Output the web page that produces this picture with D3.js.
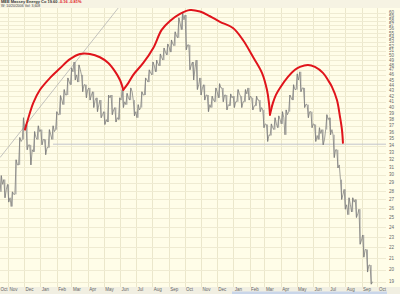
<!DOCTYPE html>
<html>
<head>
<meta charset="utf-8">
<script src="https://cdn.jsdelivr.net/npm/d3@7"></script>
<style>
  body { margin: 0; background: #fffde8; }
  svg { display: block; }
</style>
</head>
<body>
<script>
// weekly price bars, MEE, from mid Oct 2004
const wkHigh = [29.9,29.4,28.8,27.9,32.0,35.2,38.3,37.2,34.1,36.1, 37.0,36.4,34.9,36.4,37.0,39.3,42.1,43.2,45.4,47.4,
  48.6,48.0,46.0,44.1,43.5,42.8,41.7,41.3,39.3,42.2, 42.2,40.0,41.7,43.2,42.5,43.5,41.3,40.5,42.8,45.4,
  47.0,48.6,49.0,50.3,51.6,52.5,53.4,55.3,58.7,60.2, 59.4,52.3,48.6,49.0,45.4,44.1,42.2,42.0,43.5,44.3,
  43.5,42.2,42.4,42.0,43.2,42.0,43.2,43.5,41.7,42.0, 41.3,39.6,37.2,37.3,38.3,38.6,39.3,39.6,42.2,44.1,
  46.2,46.6,43.5,40.5,39.3,37.2,36.7,36.4,38.8,38.3, 35.6,33.4,29.4,28.2,27.2,27.2,27.0,25.9,23.2,21.8, 20.4];
const wkLow = [27.9,27.2,26.7,26.2,27.6,31.3,34.9,33.4,31.3,33.1, 34.9,34.1,32.7,33.7,34.9,36.4,38.8,40.5,42.2,44.1,
  45.0,44.6,42.8,41.7,41.3,40.0,39.3,38.3,37.2,37.6, 38.8,37.6,38.0,40.0,40.5,41.3,38.6,38.3,40.0,42.2,
  44.6,46.0,46.6,47.8,49.0,50.1,50.7,52.1,53.9,55.8, 51.2,47.0,45.0,43.2,42.2,41.3,39.3,40.0,41.0,41.7,
  41.0,39.6,40.3,40.0,41.0,40.0,41.0,41.3,39.6,40.3, 39.3,36.7,34.6,35.5,36.4,36.7,37.3,35.6,39.3,41.3,
  43.2,42.8,40.0,38.3,36.7,34.6,34.9,34.1,36.4,35.6, 32.3,30.9,27.0,25.9,25.3,25.6,25.0,22.3,21.1,19.8, 18.8];
const wkClose = [28.8,28.2,27.2,27.6,31.3,34.6,36.4,34.1,33.4,35.2, 36.1,34.9,33.7,35.6,36.1,38.8,41.3,42.2,44.6,46.6,
  46.0,47.0,44.1,43.2,42.2,41.3,40.5,38.8,38.0,41.7, 39.6,38.3,41.3,41.0,41.7,42.8,39.3,39.6,42.2,45.0,
  46.4,47.8,48.2,49.5,50.7,51.8,52.5,54.3,57.2,58.2, 52.3,48.0,47.4,44.1,43.5,42.2,40.5,41.3,42.8,43.5,
  42.2,40.5,41.7,41.0,42.4,41.0,42.4,42.0,40.3,41.3, 40.0,37.3,35.6,36.7,37.3,38.0,38.3,38.8,41.7,43.2,
  45.0,43.5,40.6,39.3,37.3,35.5,35.8,34.9,38.0,36.4, 33.4,31.3,27.6,26.4,26.4,26.7,25.4,22.7,21.8,20.4, 19.0];

const yTicks = [19,20,21,22,23,24,25,26,27,28,29,30,31,32,33,34,35,36,37,38,39,
  40,41,42,43,44,45,46,47,48,49,50,51,52,53,54,55,56,57,58,59,60];
const monthNames = ["Oct","Nov","Dec","Jan","Feb","Mar","Apr","May","Jun","Jul","Aug","Sep",
  "Oct","Nov","Dec","Jan","Feb","Mar","Apr","May","Jun","Jul","Aug","Sep","Oct"];

// annotations: [week position, price]
const trendPts = [[-0.32, 32.3], [32.11, 61.8]];
const supportLevel = 34.2, supportFrom = 14.0;
const leftShoulder = [[6.43,36.4],[7.32,38.2],[8.68,40.8],[10.49,43.15],[13.19,45.4],[15.89,47.3],
  [18.59,49.2],[21.3,50.3],[24.0,50.3],[26.7,49.6],[28.95,48.4],[30.76,46.7],[32.11,45.0],[33.0,43.15]];
const head = [[33.0,43.15],[34.35,44.4],[35.7,46.0],[38.41,48.4],[41.11,51.6],[43.38,55.75],[45.62,57.9],
  [48.32,59.7],[51.03,60.7],[53.73,60.3],[56.43,59.1],[59.14,57.7],[62.65,56.2],[65.35,53.4],[68.05,49.7],
  [70.49,46.4],[71.84,43.15],[72.38,40.8],[72.65,38.8]];
const rightShoulder = [[72.65,38.8],[73.46,40.8],[74.27,42.24],[75.35,43.5],[77.51,45.6],[79.41,47.0],
  [80.76,47.6],[82.92,48.0],[84.81,47.6],[86.97,46.4],[88.32,45.0],[89.41,43.7],[90.76,41.3],[91.57,38.5],
  [92.11,36.4],[92.38,34.4]];

const W = 400, H = 294;
const plotL = 0, plotR = 386, plotT = 8, plotB = 287;
const start = new Date(2004, 9, 16);

const svg = d3.select("body").append("svg")
  .attr("width", W)
  .attr("height", H)
  .style("font-family", "Arial, 'Liberation Sans', sans-serif");

const x = d3.scaleTime().domain([start, new Date(2006, 9, 16)]).range([-0.4, 385.4]);
const y = d3.scaleLog().domain([19, 60]).range([281.7, 12.7]);
const weekDate = w => new Date(start.getTime() + (3 + 7 * w) * 864e5);
const xw = w => x(weekDate(w));

// backgrounds
svg.append("rect").attr("width", W).attr("height", H).attr("fill", "#fffde8");
svg.append("rect").attr("width", W).attr("height", plotT).attr("fill", "#f6f3e3");
svg.append("rect").attr("y", plotB).attr("width", W).attr("height", H - plotB).attr("fill", "#f1efe2");
svg.append("rect").attr("x", 232).attr("y", 291.5).attr("width", 155).attr("height", 2.5).attr("fill", "#c9d6ea");

svg.append("clipPath").attr("id", "plot")
  .append("rect").attr("x", plotL).attr("y", plotT).attr("width", plotR - plotL).attr("height", plotB - plotT);

const g = svg.append("g").attr("clip-path", "url(#plot)");

// grid
const months = d3.timeMonth.range(new Date(2004, 9, 1), new Date(2006, 10, 1));
g.selectAll(".vgrid").data(months).enter().append("line")
  .attr("x1", d => Math.round(x(d)) + 0.5).attr("x2", d => Math.round(x(d)) + 0.5)
  .attr("y1", plotT).attr("y2", plotB)
  .attr("stroke", "#ebe7cb").attr("stroke-width", 1);

g.selectAll(".hgrid").data(yTicks).enter().append("line")
  .attr("x1", plotL).attr("x2", plotR)
  .attr("y1", d => Math.round(y(d)) + 0.5).attr("y2", d => Math.round(y(d)) + 0.5)
  .attr("stroke", "#efebd2").attr("stroke-width", 1);

// trend + support lines
g.append("line")
  .attr("x1", xw(trendPts[0][0])).attr("y1", y(trendPts[0][1]))
  .attr("x2", xw(trendPts[1][0])).attr("y2", y(trendPts[1][1]))
  .attr("stroke", "#b4b4b4").attr("stroke-width", 0.8);

g.append("line")
  .attr("x1", xw(supportFrom)).attr("x2", plotR)
  .attr("y1", y(supportLevel)).attr("y2", y(supportLevel))
  .attr("stroke", "#c2c4cc").attr("stroke-width", 1);

// price: weekly range bars + jagged path
const idx = d3.range(wkClose.length);
g.selectAll(".bar").data(idx).enter().append("line")
  .attr("x1", i => xw(i)).attr("x2", i => xw(i))
  .attr("y1", i => y(wkHigh[i])).attr("y2", i => y(wkLow[i]))
  .attr("stroke", "#9a9a9a").attr("stroke-width", 0.9);

const pts = [];
idx.forEach(i => {
  const prev = i > 0 ? wkClose[i - 1] : wkClose[i];
  const up = wkClose[i] >= prev;
  pts.push([i - 0.3, up ? wkLow[i] : wkHigh[i]]);
  pts.push([i + 0.05, up ? wkHigh[i] : wkLow[i]]);
  pts.push([i + 0.4, wkClose[i]]);
});
g.append("path")
  .attr("d", d3.line().x(d => xw(d[0])).y(d => y(d[1]))(pts))
  .attr("fill", "none").attr("stroke", "#777").attr("stroke-width", 0.7);

// red head & shoulders arcs
const arc = d3.line().x(d => xw(d[0])).y(d => y(d[1])).curve(d3.curveCatmullRom);
[leftShoulder, head, rightShoulder].forEach(seg => {
  g.append("path").attr("d", arc(seg))
    .attr("fill", "none").attr("stroke", "#e0141b").attr("stroke-width", 2)
    .attr("stroke-linecap", "round");
});

// right price axis
svg.selectAll(".ylab").data(yTicks).enter().append("text")
  .attr("x", 389).attr("y", d => y(d) + 1.6)
  .attr("font-size", 4.5).attr("fill", "#666")
  .text(d => d);

// month labels
svg.selectAll(".xlab").data(months).enter().append("text")
  .attr("x", d => Math.max(0.5, x(d) + 1.5)).attr("y", 291)
  .attr("font-size", 4.5).attr("fill", "#666")
  .text((d, i) => monthNames[i]);

// header
const head1 = svg.append("text").attr("x", 1).attr("y", 3.2).attr("font-size", 4).attr("font-weight", "bold");
head1.append("tspan").attr("fill", "#333").text("MEE Massey Energy Co  19.60  ");
head1.append("tspan").attr("fill", "#e0141b").text("-0.16  -0.81%");
svg.append("text").attr("x", 1).attr("y", 7).attr("font-size", 3.5).attr("fill", "#444")
  .text("W: 10/20/2006 Vol: 3,608");
</script>
</body>
</html>
